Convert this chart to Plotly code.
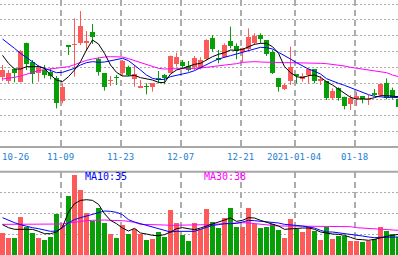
import plotly.graph_objects as go

# ---------------- data ----------------
tick_idx = [0, 10, 20, 30, 40, 49, 59]
tick_text = ["10-26", "11-09", "11-23", "12-07", "12-21", "2021-01-04", "01-18"]

open_ = [21.8, 20.8, 24.2, 20.5, 32.2, 26.5, 23.2, 24.0, 23.5, 21.5,
         14.8, 31.3, 31.5, 32.2, 32.0, 35.4, 27.3, 23.1, 20.7, 21.8,
         23.0, 25.0, 21.4, 18.7, 19.1, 19.0, 21.4, 22.5, 23.2, 25.7,
         26.3, 25.3, 24.8, 24.7, 27.2, 33.7, 27.5, 28.0, 32.7, 31.3,
         29.5, 30.3, 32.2, 34.5, 33.0, 29.3, 21.5, 18.3, 20.8, 22.8,
         21.4, 22.5, 24.2, 20.9, 20.7, 15.5, 18.5, 16.0, 13.8, 15.2,
         16.2, 15.0, 17.0, 16.5, 20.0, 18.0, 15.2]
high = [25.5, 24.0, 24.5, 30.0, 32.2, 27.0, 25.5, 25.5, 24.5, 22.2,
        20.0, 31.3, 39.5, 41.7, 35.7, 37.8, 27.8, 23.1, 22.2, 22.5,
        27.0, 25.3, 25.5, 21.0, 20.0, 20.1, 23.7, 22.8, 28.3, 29.2,
        27.0, 26.7, 28.2, 27.8, 33.2, 34.5, 30.0, 32.0, 37.0, 32.0,
        30.7, 36.5, 35.0, 35.0, 33.0, 30.0, 21.5, 20.0, 31.0, 22.8,
        23.0, 24.5, 24.2, 22.2, 20.7, 18.5, 18.8, 16.0, 16.5, 17.5,
        16.2, 16.5, 18.3, 20.0, 21.5, 18.7, 15.5]
low = [20.7, 20.0, 20.3, 20.3, 24.0, 20.0, 20.5, 21.5, 21.2, 12.5,
       14.0, 28.5, 22.0, 31.5, 29.8, 31.8, 22.3, 17.8, 19.2, 19.5,
       22.2, 22.2, 19.0, 18.5, 16.7, 17.5, 20.0, 19.7, 23.0, 25.0,
       24.3, 23.5, 24.0, 24.2, 27.0, 29.5, 26.0, 27.8, 30.5, 27.2,
       26.3, 29.8, 31.5, 32.0, 28.2, 22.8, 17.5, 18.0, 19.5, 20.0,
       20.5, 20.0, 20.0, 19.5, 15.0, 15.0, 14.8, 12.2, 12.0, 13.2,
       14.0, 13.5, 16.2, 16.2, 15.2, 15.2, 12.8]
close = [24.0, 23.2, 23.2, 29.8, 25.8, 22.7, 24.5, 22.5, 22.2, 14.2,
         18.8, 31.0, 31.8, 37.3, 32.8, 34.0, 23.5, 19.0, 20.9, 21.6,
         26.8, 22.5, 22.8, 19.2, 18.9, 20.1, 21.1, 21.7, 28.3, 27.9,
         25.3, 24.0, 27.5, 27.0, 33.0, 30.3, 27.0, 31.5, 31.3, 29.7,
         30.5, 33.8, 34.2, 33.3, 28.8, 23.0, 19.0, 19.5, 25.0, 22.4,
         22.2, 24.3, 20.7, 21.1, 15.5, 17.8, 15.5, 13.2, 15.7, 16.2,
         15.2, 15.3, 16.5, 19.7, 15.7, 16.0, 13.0]

ma5 = [28.4, 26.0, 24.3, 24.3, 25.0, 25.0, 25.0, 24.5, 22.5, 21.0,
       20.5, 22.0, 24.0, 26.5, 30.0, 33.0, 31.8, 29.0, 25.5, 23.3,
       22.2, 22.2, 22.4, 21.7, 21.3, 21.0, 20.3, 20.2, 22.8, 24.0,
       24.5, 25.1, 25.7, 26.0, 27.0, 28.0, 28.7, 29.2, 30.0, 29.9,
       30.2, 31.0, 31.7, 32.0, 32.0, 31.0, 29.0, 25.0, 23.2, 22.0,
       21.7, 22.3, 22.5, 21.8, 20.5, 19.5, 18.3, 17.0, 15.8, 15.3,
       15.2, 15.3, 15.7, 16.3, 16.3, 16.2, 16.0]
ma10 = [33.3, 32.0, 30.5, 29.0, 27.8, 26.5, 25.2, 24.5, 23.8, 23.2,
        23.3, 23.8, 24.5, 25.5, 26.2, 26.5, 26.3, 26.4, 26.7, 27.2,
        27.5, 26.8, 25.5, 24.0, 22.5, 21.5, 21.1, 21.2, 22.0, 22.5,
        22.8, 23.2, 23.8, 24.7, 25.7, 26.5, 27.3, 27.9, 28.3, 28.8,
        29.3, 30.0, 30.4, 30.8, 30.7, 30.3, 29.3, 28.4, 27.3, 26.2,
        25.2, 24.3, 23.6, 22.8, 21.4, 20.6, 20.0, 19.4, 18.7, 18.0,
        17.2, 16.6, 16.1, 15.9, 15.8, 15.8, 15.7]
ma30 = [21.3, 21.5, 21.8, 22.2, 22.8, 23.4, 23.8, 24.1, 24.3, 24.5,
        24.6, 25.0, 25.6, 26.3, 26.9, 27.3, 27.7, 27.9, 28.0, 28.0,
        27.9, 27.4, 26.8, 26.2, 25.5, 25.0, 24.5, 24.3, 24.3, 24.3,
        24.4, 24.5, 24.5, 24.6, 24.8, 25.0, 25.2, 25.3, 25.5, 25.9,
        26.3, 26.5, 26.5, 26.4, 26.3, 26.3, 26.2, 26.2, 26.2, 26.2,
        26.2, 26.2, 26.1, 26.0, 25.9, 25.7, 25.5, 25.2, 24.8, 24.5,
        24.2, 24.0, 23.8, 23.5, 23.2, 22.5, 22.0]

volume = [33.0, 25.5, 25.5, 57.0, 42.0, 33.0, 25.5, 22.5, 27.0, 61.5,
          46.0, 88.5, 120.5, 98.0, 63.0, 51.0, 71.0, 48.0, 31.5, 25.5,
          45.0, 31.5, 39.5, 32.0, 23.0, 24.5, 34.5, 27.0, 68.0, 48.5,
          30.5, 21.0, 48.0, 39.0, 69.5, 49.5, 41.0, 55.5, 70.5, 42.0,
          42.0, 70.5, 46.5, 41.0, 42.0, 47.0, 38.0, 26.0, 54.5, 39.5,
          34.5, 42.5, 36.5, 22.5, 43.0, 24.5, 29.0, 29.5, 21.0, 21.0,
          19.5, 21.0, 24.5, 42.0, 36.0, 32.0, 28.0]
vol_ma5 = [45.5, 41.0, 38.5, 38.5, 38.5, 38.5, 35.5, 32.0, 32.0, 34.5,
           42.0, 64.5, 77.0, 82.0, 83.0, 82.0, 76.0, 62.0, 52.0, 47.0,
           40.5, 36.0, 40.0, 33.0, 31.5, 29.5, 29.0, 30.5, 34.5, 39.5,
           41.0, 39.5, 38.0, 40.5, 43.5, 46.0, 48.5, 52.0, 55.5, 50.5,
           52.0, 56.0, 55.5, 52.0, 49.0, 47.0, 43.5, 38.5, 39.5, 39.5,
           40.5, 40.5, 38.5, 34.5, 32.5, 31.5, 31.0, 29.5, 26.5, 23.5,
           23.0, 22.0, 23.5, 26.0, 28.0, 29.5, 31.0]
vol_ma10 = [56.0, 52.0, 48.5, 45.5, 43.0, 41.0, 39.5, 37.0, 35.5, 36.0,
            41.0, 48.5, 53.0, 56.0, 58.5, 60.5, 63.5, 66.0, 65.5, 64.0,
            60.5, 53.0, 49.5, 47.0, 44.5, 42.0, 39.5, 36.0, 34.5, 35.5,
            35.5, 35.5, 35.5, 38.5, 42.0, 44.5, 45.5, 47.0, 47.0, 47.5,
            49.5, 52.0, 51.5, 50.5, 50.0, 49.5, 48.0, 46.0, 45.5, 44.5,
            43.5, 42.0, 40.5, 37.0, 34.5, 34.5, 33.5, 32.0, 30.5, 29.5,
            28.5, 27.0, 26.0, 26.5, 27.0, 27.0, 27.0]
vol_ma30 = [46.0, 46.0, 46.0, 46.0, 46.0, 46.0, 46.0, 46.0, 46.0, 46.0,
            46.5, 48.0, 49.5, 50.5, 51.5, 52.0, 52.5, 52.5, 52.0, 52.0,
            51.5, 50.5, 49.0, 46.0, 46.0, 45.5, 45.5, 45.0, 44.5, 44.5,
            44.5, 44.5, 44.5, 45.0, 45.5, 46.0, 46.5, 47.0, 48.0, 48.5,
            48.5, 48.0, 47.0, 46.0, 45.0, 44.0, 43.5, 43.5, 43.5, 43.5,
            43.5, 43.5, 43.0, 43.0, 43.0, 43.0, 43.5, 43.5, 42.5, 41.0,
            40.5, 40.0, 39.5, 39.0, 38.5, 38.0, 37.0]

ma_labels = ["MA10:35", "MA30:38"]

# ---------------- styling ----------------
W, H = 398, 255
RED = "#ff5a5a"
GREEN = "#06a006"
GRID = "#acacac"
LABEL_BLUE = "#1f7fd4"

idx = list(range(len(close)))
colors = [RED if c >= o else GREEN for o, c in zip(open_, close)]

TOP_PX = 147.0
VOL_TOP_PX = 171.7
top_domain = [1 - TOP_PX / H, 1.0]
vol_domain = [0.0, (H - VOL_TOP_PX) / H]

fig = go.Figure()

# wicks
for col in (RED, GREEN):
    xs, ys = [], []
    for i in idx:
        if colors[i] == col:
            xs += [i, i, None]
            ys += [low[i], high[i], None]
    fig.add_trace(go.Scatter(x=xs, y=ys, mode="lines", line=dict(color=col, width=1),
                             xaxis="x", yaxis="y", hoverinfo="skip", showlegend=False))

# bodies
base = [min(o, c) for o, c in zip(open_, close)]
body = [max(abs(c - o), 0.3) for o, c in zip(open_, close)]
fig.add_trace(go.Bar(x=idx, y=body, base=base, width=0.83, marker=dict(color=colors, line=dict(width=0)),
                     xaxis="x", yaxis="y", showlegend=False, hoverinfo="skip"))

# price MAs
for series, col in ((ma30, "#ff00ff"), (ma10, "#0000ff"), (ma5, "#000000")):
    fig.add_trace(go.Scatter(x=idx, y=series, mode="lines", line=dict(color=col, width=1),
                             xaxis="x", yaxis="y", showlegend=False, hoverinfo="skip"))

# volume
fig.add_trace(go.Bar(x=idx, y=volume, width=0.83, marker=dict(color=colors, line=dict(width=0)),
                     xaxis="x2", yaxis="y2", showlegend=False, hoverinfo="skip"))
for series, col in ((vol_ma30, "#ff00ff"), (vol_ma10, "#0000ff"), (vol_ma5, "#000000")):
    fig.add_trace(go.Scatter(x=idx, y=series, mode="lines", line=dict(color=col, width=1),
                             xaxis="x2", yaxis="y2", showlegend=False, hoverinfo="skip"))

xr = [-2.5 / 6, (W - 2.5) / 6]
grid_x = [t - 0.33 for t in tick_idx[1:]]
xcommon = dict(range=xr, showgrid=True, gridcolor=GRID, gridwidth=1.5, griddash="6px,4px",
               tickmode="array", tickvals=grid_x, showticklabels=False, ticks="",
               zeroline=False, showline=False, fixedrange=True)

price_grid = [43.8 - 4.7625 * k for k in range(9)]
vol_grid = [31.25, 62.5, 93.75]

fig.update_layout(
    width=W, height=H, margin=dict(l=0, r=0, t=0, b=0),
    paper_bgcolor="white", plot_bgcolor="white",
    bargap=0, barmode="overlay", showlegend=False,
    xaxis=dict(domain=[0, 1], anchor="y", **xcommon),
    yaxis=dict(domain=top_domain, range=[0.9, 45.0], showgrid=True, gridcolor=GRID, gridwidth=1,
               griddash="2px,2px", tickmode="array", tickvals=price_grid, showticklabels=False,
               ticks="", zeroline=False, showline=False),
    xaxis2=dict(domain=[0, 1], anchor="y2", **xcommon),
    yaxis2=dict(domain=vol_domain, range=[0, 125], showgrid=True, gridcolor=GRID, gridwidth=1,
                griddash="2px,2px", tickmode="array", tickvals=vol_grid, showticklabels=False,
                ticks="", zeroline=False, showline=False),
)

# panel separator lines
for ypx in (TOP_PX, VOL_TOP_PX):
    fig.add_shape(type="line", xref="paper", yref="paper", x0=0, x1=1,
                  y0=1 - ypx / H, y1=1 - ypx / H, line=dict(color="#a8a8a8", width=2))

# date labels
label_y = 1 - 156.5 / H
for t, txt in zip(tick_idx, tick_text):
    if t == 0:
        fig.add_annotation(x=xr[0], y=label_y, xref="x", yref="paper", text=txt, showarrow=False,
                           xanchor="left", yanchor="middle",
                           font=dict(family="DejaVu Sans Mono", size=9, color=LABEL_BLUE))
    else:
        fig.add_annotation(x=t - 0.4, y=label_y, xref="x", yref="paper", text=txt, showarrow=False,
                           xanchor="center", yanchor="middle",
                           font=dict(family="DejaVu Sans Mono", size=9, color=LABEL_BLUE))

# volume MA labels
for txt, xpx, col in ((ma_labels[0], 82.5, "#0000ff"), (ma_labels[1], 202.5, "#ff00ff")):
    fig.add_annotation(x=xpx / W, y=1 - 176.5 / H, xref="paper", yref="paper", text=txt,
                       showarrow=False, xanchor="left", yanchor="middle",
                       font=dict(family="DejaVu Sans Mono", size=10, color=col))

fig.write_html("out.html")
